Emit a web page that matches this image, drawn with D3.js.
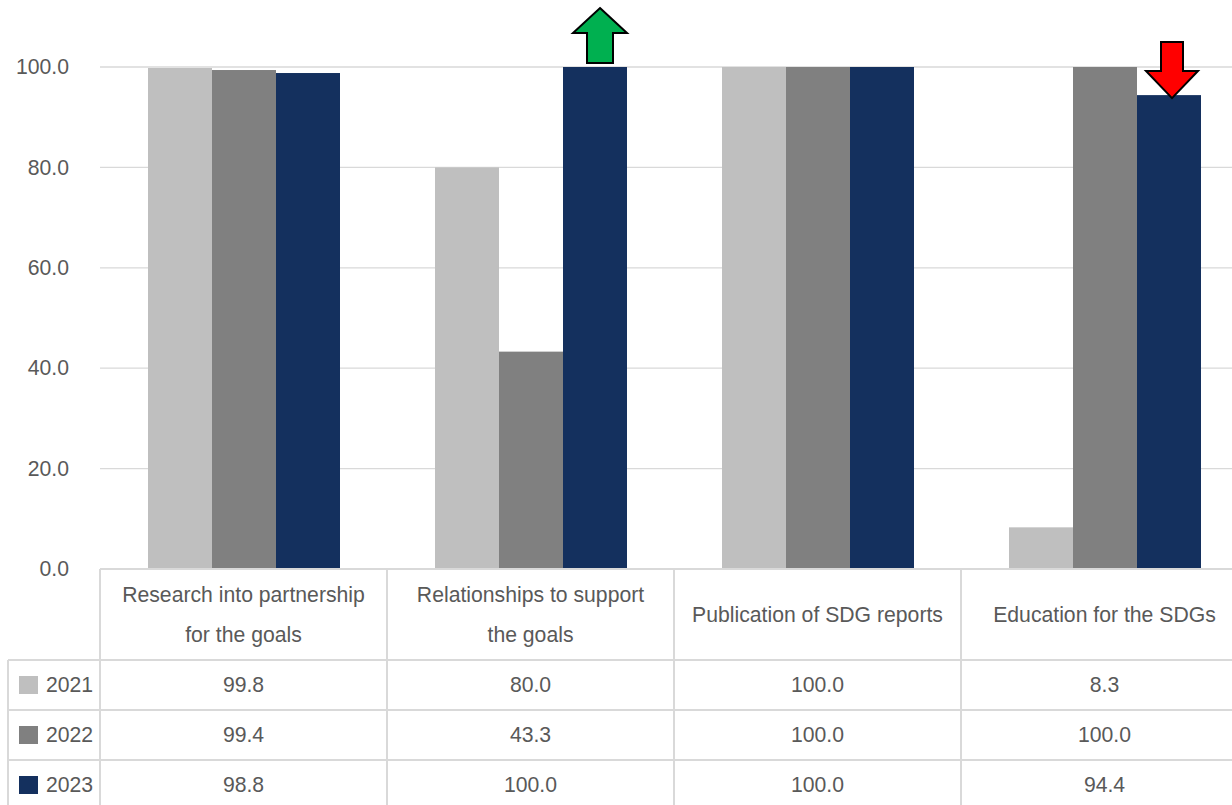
<!DOCTYPE html>
<html>
<head>
<meta charset="utf-8">
<script src="https://cdn.jsdelivr.net/npm/d3@7/dist/d3.min.js"></script>
<style>
  html, body { margin: 0; padding: 0; background: #ffffff; }
  svg { display: block; }
  text { font-family: "Liberation Sans", Arial, sans-serif; fill: #595959; }
</style>
</head>
<body>
<svg id="chart" width="1232" height="805"></svg>
<script>
const categories = [
  ["Research into partnership", "for the goals"],
  ["Relationships to support", "the goals"],
  ["Publication of SDG reports"],
  ["Education for the SDGs"]
];
const years = ["2021", "2022", "2023"];
const values2021 = [99.8, 80.0, 100.0, 8.3];
const values2022 = [99.4, 43.3, 100.0, 100.0];
const values2023 = [98.8, 100.0, 100.0, 94.4];
const yTicks = [0, 20, 40, 60, 80, 100];
const colors = ["#bfbfbf", "#808080", "#14305e"];
// annotations: [category index, series index, direction]
const arrowCategories = [1, 3];
const arrowSeries = [2, 2];
const arrowDirections = ["up", "down"];

const series = [values2021, values2022, values2023];

const svg = d3.select("#chart");
const W = 1232, H = 805;
const left = 100, bandW = 287;
const y0 = 569, y100 = 67;
const headerBottom = 660, rowH = 50;
const gridColor = "#d9d9d9";
const fs = 21.2;

const catIdx = categories.map((d, i) => i);
const x = d3.scaleBand().domain(catIdx).range([left, left + bandW * categories.length]).padding(0);
const xs = d3.scaleBand().domain(years).range([48, 48 + 192]).padding(0);
const y = d3.scaleLinear().domain([0, 100]).range([y0, y100]);

// gridlines
svg.append("g").selectAll("line").data(yTicks.filter(t => t > 0)).join("line")
  .attr("x1", left).attr("x2", W)
  .attr("y1", d => y(d)).attr("y2", d => y(d))
  .attr("stroke", gridColor).attr("stroke-width", 1.3);

// y axis labels
const yAxis = d3.axisLeft(y).tickValues(yTicks).tickFormat(d3.format(".1f")).tickSize(0).tickPadding(0);
const yg = svg.append("g").attr("transform", `translate(${69},0)`).call(yAxis);
yg.select(".domain").remove();
yg.selectAll("text").attr("font-size", fs).attr("fill", "#595959")
  .style("font-family", '"Liberation Sans", Arial, sans-serif');

// bars
const flat = [];
series.forEach((vals, si) => vals.forEach((v, ci) => flat.push({ ci, si, v })));
svg.append("g").selectAll("rect").data(flat).join("rect")
  .attr("x", d => x(d.ci) + xs(years[d.si]))
  .attr("width", xs.bandwidth())
  .attr("y", d => y(d.v))
  .attr("height", d => y(0) - y(d.v))
  .attr("fill", d => colors[d.si]);

// table lines
const tbl = svg.append("g").attr("stroke", gridColor).attr("stroke-width", 2);
tbl.append("line").attr("x1", left).attr("x2", W).attr("y1", y0).attr("y2", y0);
[0, 1, 2].forEach(r => {
  tbl.append("line").attr("x1", 8).attr("x2", W)
    .attr("y1", headerBottom + r * rowH).attr("y2", headerBottom + r * rowH);
});
catIdx.forEach(i => {
  tbl.append("line").attr("x1", x(i)).attr("x2", x(i)).attr("y1", y0).attr("y2", H);
});
tbl.append("line").attr("x1", 8).attr("x2", 8).attr("y1", headerBottom).attr("y2", H);

// header labels
const hdr = svg.append("g");
categories.forEach((lines, i) => {
  const cx = x(i) + bandW / 2;
  const mid = (y0 + headerBottom) / 2;
  const lh = 40;
  lines.forEach((ln, k) => {
    hdr.append("text")
      .attr("x", cx)
      .attr("y", mid + (k - (lines.length - 1) / 2) * lh)
      .attr("dy", "0.35em")
      .attr("text-anchor", "middle")
      .attr("font-size", fs)
      .text(ln);
  });
});

// rows
series.forEach((vals, si) => {
  const cy = headerBottom + si * rowH + rowH / 2;
  svg.append("rect").attr("x", 19).attr("y", cy - 9).attr("width", 19).attr("height", 18).attr("fill", colors[si]);
  svg.append("text").attr("x", 46).attr("y", cy).attr("dy", "0.35em").attr("font-size", fs).text(years[si]);
  vals.forEach((v, ci) => {
    svg.append("text").attr("x", x(ci) + bandW / 2).attr("y", cy).attr("dy", "0.35em")
      .attr("text-anchor", "middle").attr("font-size", fs).text(d3.format(".1f")(v));
  });
});

// arrows
arrowCategories.forEach((ci, k) => {
  const si = arrowSeries[k];
  const top = y(series[si][ci]);
  let pts, fill;
  if (arrowDirections[k] === "up") {
    fill = "#00b050";
    const cx = x(ci) + xs(years[si]) + xs.bandwidth() / 2 + 5;
    const b = top - 4, t = 8, hb = 33;
    pts = [[cx, t], [cx + 27, hb], [cx + 13, hb], [cx + 13, b], [cx - 13, b], [cx - 13, hb], [cx - 27, hb]];
  } else {
    fill = "#ff0000";
    const cx = x(ci) + xs(years[si]) + xs.bandwidth() / 2 + 3;
    const tip = top + 3, t = 42, hb = 71;
    pts = [[cx, tip], [cx + 26, hb], [cx + 11, hb], [cx + 11, t], [cx - 11, t], [cx - 11, hb], [cx - 26, hb]];
  }
  svg.append("polygon").attr("points", pts.map(p => p.join(",")).join(" "))
    .attr("fill", fill).attr("stroke", "#000").attr("stroke-width", 2).attr("stroke-linejoin", "miter");
});
</script>
</body>
</html>
